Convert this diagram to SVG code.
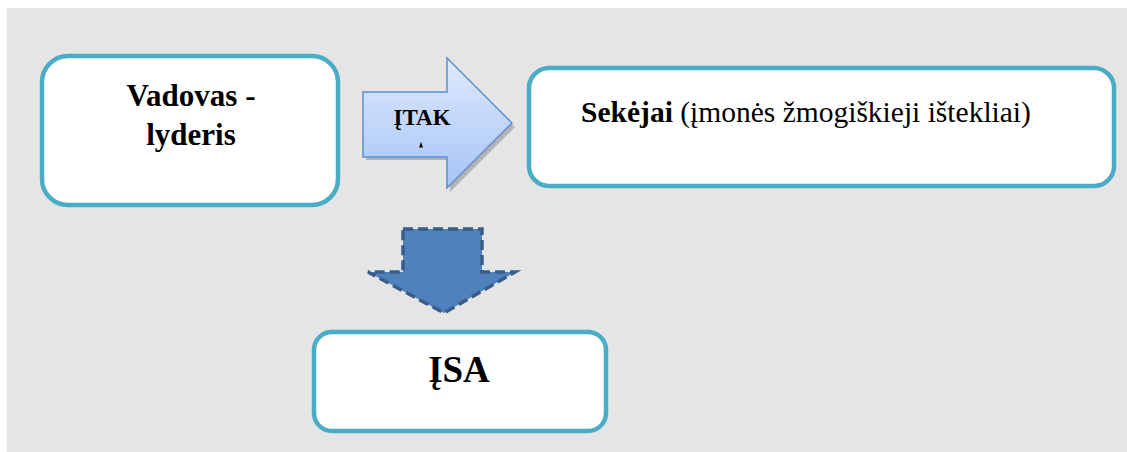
<svg xmlns="http://www.w3.org/2000/svg" width="1127" height="452" viewBox="0 0 1127 452">
<style>
.box{fill:#ffffff;stroke:#4bacc6;stroke-width:4.5}
.t{font-family:"Liberation Serif","Times New Roman",serif;fill:#000;text-anchor:middle}
.b{font-weight:bold}
</style>
<defs>
<linearGradient id="g" x1="0" y1="0" x2="0" y2="1">
<stop offset="0" stop-color="#dfe9fc"/>
<stop offset="1" stop-color="#a6c4f7"/>
</linearGradient>
</defs>
<rect x="7" y="8" width="1120" height="444" fill="#e5e5e5"/>
<g id="connectors">
<g id="itak-arrow">
<path d="M366 96 H450 V62 L515 127 L450 192 V160 H366 Z" fill="#8c8c8c" opacity="0.55"/>
<path d="M363 92 H447 V58 L512 123 L447 188 V157 H363 Z" fill="url(#g)" stroke="#5b8fd0" stroke-width="1.5" stroke-linejoin="miter"/>
<text class="t b" x="422" y="125" font-size="23">ĮTAK</text>
<path d="M419 147.5 L421 142 L423 147.5 Z" fill="#000"/>
</g>
<g id="down-arrow">
<path d="M403 229 H482 V272 H515 L444 313 L368 272 H403 Z" fill="#4f81bd" stroke="#385d8a" stroke-width="3.5" stroke-dasharray="10 5" stroke-linejoin="miter"/>
</g>
</g>
<g id="vadovas">
<rect class="box" x="42" y="56" width="296" height="149" rx="26"/>
<text class="t b" x="191" y="106" font-size="31">Vadovas -</text>
<text class="t b" x="191" y="145" font-size="31">lyderis</text>
</g>
<g id="sekejai">
<rect class="box" x="529" y="68" width="585" height="118" rx="20"/>
<text class="t" x="806" y="122" font-size="29.5"><tspan class="b">Sekėjai</tspan> (įmonės žmogiškieji ištekliai)</text>
</g>
<g id="isa">
<rect class="box" x="314" y="332" width="292" height="99" rx="18"/>
<text class="t b" x="459" y="382" font-size="37">ĮSA</text>
</g>
</svg>
